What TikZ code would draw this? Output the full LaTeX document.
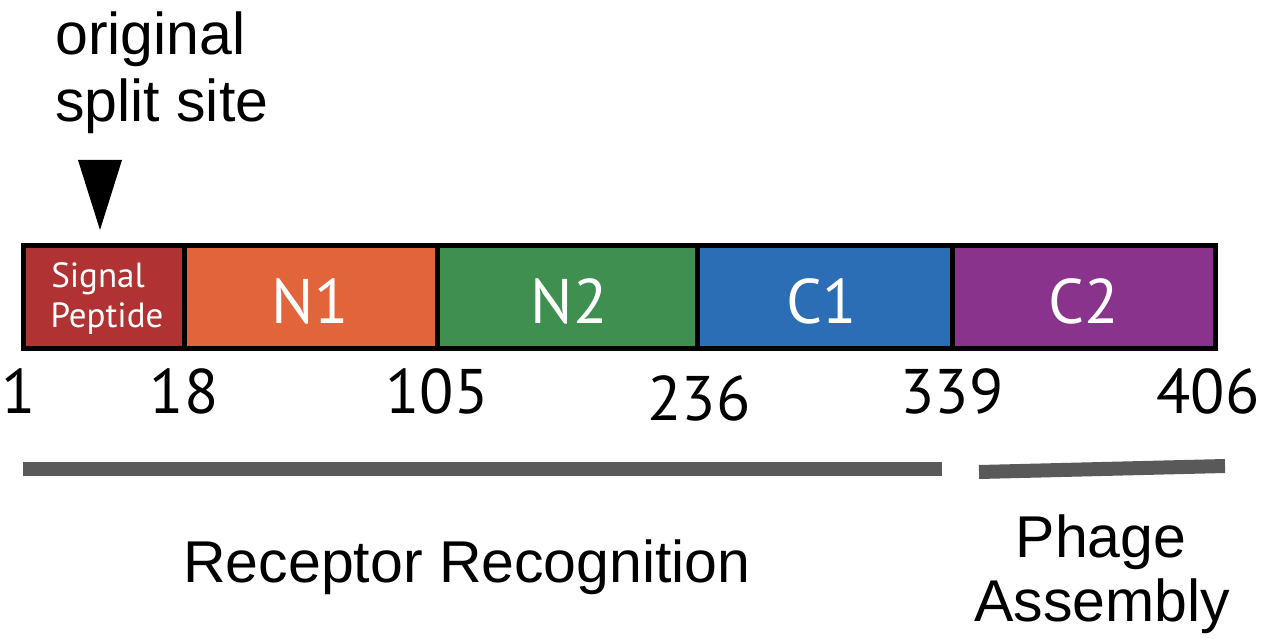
\documentclass[tikz,border=0pt]{standalone}
\usepackage{fontspec}
\setmainfont{Liberation Sans}
\newfontfamily\domfont{PT Sans}
\definecolor{cSP}{HTML}{B03232}
\definecolor{cNa}{HTML}{E2643A}
\definecolor{cNb}{HTML}{3F9050}
\definecolor{cCa}{HTML}{2C6EB5}
\definecolor{cCb}{HTML}{8A338C}
\definecolor{cBar}{HTML}{595959}
\begin{document}
\begin{tikzpicture}[x=1pt,y=-1pt,
  dom/.style={draw=black,line width=5pt},
  domlabel/.style={text=white,font=\domfont\fontsize{63}{63}\selectfont,inner sep=0pt},
  sptext/.style={text=white,inner sep=0pt,anchor=base,font=\domfont\fontsize{35}{35}\selectfont},
  num/.style={font=\domfont\fontsize{63}{63}\selectfont,inner sep=0pt,anchor=base},
  lbl/.style={font=\fontsize{59}{59}\selectfont,inner sep=0pt,anchor=base},
  gbar/.style={cBar,line width=14pt}]
\useasboundingbox (0,0) rectangle (1276,639);
% domains
\filldraw[dom,fill=cSP] (23.5,245) rectangle (184,348);
\filldraw[dom,fill=cNa] (184,245) rectangle (437,348);
\filldraw[dom,fill=cNb] (437,245) rectangle (697,348);
\filldraw[dom,fill=cCa] (697,245) rectangle (952,348);
\filldraw[dom,fill=cCb] (952,245) rectangle (1215,348);
\node[sptext] (sp1) at (98,287) {Signal};
\node[sptext] (sp2) at (107,327) {Peptide};
\node[domlabel,anchor=base] (n1) at (310,323) {N1};
\node[domlabel,anchor=base] (n2) at (569,323) {N2};
\node[domlabel,anchor=base] (c1) at (822,323) {C1};
\node[domlabel,anchor=base] (c2) at (1084,323) {C2};
% numbers
\node[num] (p1) at (19,413) {1};
\node[num] (p18) at (184,413) {18};
\node[num] (p105) at (437,413) {105};
\node[num] (p236) at (699,420) {236};
\node[num] (p339) at (952,413) {339};
\node[num] (p406) at (1208,413) {406};
% split site
\fill (78,160) -- (122,160) -- (100,230) -- cycle;
\node[lbl,anchor=base west] (orig) at (55,55) {original};
\node[lbl,anchor=base west] (split) at (55,122) {split site};
% bars
\coordinate (ra) at (23,469);
\coordinate (rb) at (942,469);
\coordinate (pa) at (979,472);
\coordinate (pb) at (1225,466);
\draw[gbar] (ra) -- (rb);
\draw[gbar] (pa) -- (pb);
\node[lbl] (rr) at (467,582) {Receptor Recognition};
\node[lbl] (ph) at (1101,557) {Phage};
\node[lbl] (as) at (1102,621) {Assembly};
\end{tikzpicture}
\end{document}
